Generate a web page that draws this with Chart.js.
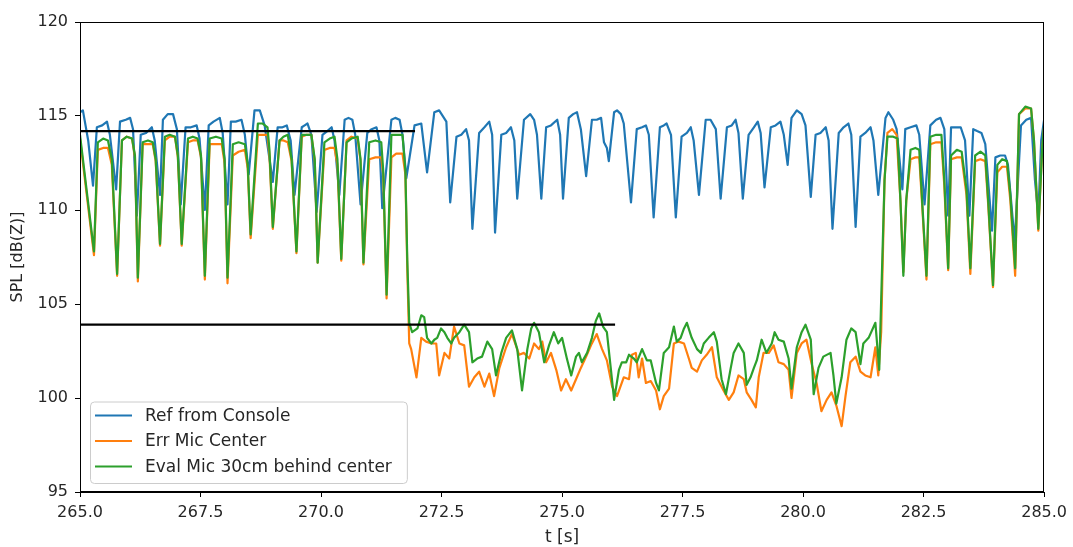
<!DOCTYPE html>
<html>
<head>
<meta charset="utf-8">
<script src="https://cdn.jsdelivr.net/npm/chart.js@4.4.1/dist/chart.umd.min.js"></script>
<style>
  html, body { margin: 0; padding: 0; background: #fff; }
  #wrap { position: relative; width: 1073px; height: 547px; }
</style>
</head>
<body>
<div id="wrap"><canvas id="spl"></canvas></div>
<script>
// time axis [s] and SPL [dB(Z)]
const refT = [
  265.00, 265.06, 265.17, 265.27,
  265.35, 265.46, 265.56, 265.62, 265.75,
  265.83, 265.95, 266.04, 266.10, 266.18,
  266.26, 266.37, 266.49, 266.55, 266.66,
  266.72, 266.82, 266.93, 267.01, 267.09,
  267.19, 267.30, 267.42, 267.48, 267.59,
  267.67, 267.77, 267.90, 267.96, 268.06,
  268.13, 268.23, 268.35, 268.42, 268.50,
  268.62, 268.73, 268.83, 269.00,
  269.10, 269.20, 269.29, 269.37, 269.45,
  269.60, 269.66, 269.72, 269.80, 269.91,
  270.03, 270.13, 270.22, 270.28, 270.38,
  270.49, 270.57, 270.65, 270.71, 270.82,
  270.96, 271.05, 271.15, 271.21, 271.27,
  271.46, 271.54, 271.63, 271.69, 271.77,
  271.94, 272.08, 272.20,
  272.35, 272.45, 272.60, 272.68,
  272.81, 272.91, 273.01, 273.07, 273.14,
  273.28, 273.39, 273.49, 273.55, 273.61,
  273.74, 273.84, 273.94, 274.01, 274.07,
  274.21, 274.34, 274.42, 274.48, 274.57,
  274.67, 274.77, 274.90, 274.96, 275.02,
  275.14, 275.23, 275.31, 275.39, 275.50,
  275.62, 275.72, 275.81, 275.87, 275.93, 275.97,
  276.08, 276.14, 276.22, 276.28, 276.43,
  276.55, 276.66, 276.74, 276.80, 276.90,
  277.03, 277.11, 277.17, 277.26, 277.36,
  277.48, 277.59, 277.67, 277.73, 277.84,
  277.98, 278.08, 278.19, 278.29,
  278.42, 278.52, 278.60, 278.66, 278.75,
  278.87, 278.98, 279.06, 279.12, 279.20,
  279.33, 279.43, 279.53, 279.60, 279.68,
  279.76, 279.87, 279.97, 280.05, 280.16,
  280.26, 280.36, 280.47, 280.53, 280.61,
  280.74, 280.84, 280.94, 281.00, 281.09,
  281.19, 281.29, 281.40, 281.46, 281.56,
  281.71, 281.77, 281.87, 281.94, 282.06,
  282.12, 282.23, 282.35, 282.41, 282.52,
  282.64, 282.76, 282.85, 282.93, 283.01,
  283.07, 283.17, 283.27, 283.36, 283.45,
  283.53, 283.61, 283.70, 283.78, 283.92,
  283.99, 284.09, 284.19, 284.25, 284.39,
  284.52, 284.63, 284.73, 284.81, 284.88,
  284.94, 285.00
];
const refV = [
  115.2, 115.3, 113.7, 111.3,
  114.4, 114.5, 114.7, 114.0, 111.1,
  114.7, 114.8, 114.9, 114.3, 109.7,
  114.0, 114.1, 114.4, 113.7, 110.8,
  114.8, 115.1, 115.1, 114.3, 110.3,
  114.4, 114.4, 114.5, 113.8, 110.0,
  114.5, 114.7, 114.9, 114.1, 110.3,
  114.7, 114.7, 114.8, 114.0, 111.9,
  115.3, 115.3, 114.5, 111.5,
  114.4, 114.4, 114.5, 113.7, 110.8,
  114.4, 114.5, 114.6, 114.0, 109.9,
  114.0, 114.2, 114.4, 113.7, 110.8,
  114.8, 114.9, 114.8, 114.0, 110.3,
  114.1, 114.3, 114.4, 113.7, 110.1,
  114.8, 114.9, 114.8, 114.0, 111.7,
  114.5, 114.6, 112.0,
  115.2, 115.3, 114.7, 110.4,
  113.9, 114.0, 114.3, 113.7, 109.0,
  114.1, 114.4, 114.7, 114.0, 108.8,
  114.0, 114.1, 114.4, 113.7, 110.6,
  114.8, 115.1, 114.8, 114.0, 110.6,
  114.4, 114.5, 114.8, 114.0, 110.6,
  114.9, 115.1, 115.2, 114.3, 111.8,
  114.8, 114.8, 114.9, 113.6, 113.3, 112.6,
  115.2, 115.3, 115.1, 114.6, 110.4,
  114.3, 114.4, 114.5, 114.0, 109.6,
  114.4, 114.5, 114.6, 114.0, 109.6,
  113.9, 114.1, 114.4, 113.7, 110.8,
  114.8, 114.8, 114.3, 110.6,
  114.4, 114.5, 114.8, 114.1, 110.6,
  114.0, 114.4, 114.7, 114.1, 111.2,
  114.4, 114.5, 114.7, 114.0, 112.4,
  114.9, 115.3, 115.1, 114.5, 110.7,
  114.0, 114.1, 114.4, 113.7, 109.0,
  114.1, 114.4, 114.6, 114.0, 109.1,
  113.9, 114.1, 114.4, 113.7, 110.8,
  114.9, 115.2, 114.8, 114.3, 111.1,
  114.3, 114.4, 114.5, 114.0, 110.3,
  114.5, 114.8, 114.9, 114.3, 109.7,
  114.4, 114.4, 114.4, 113.7, 109.7,
  114.3, 114.2, 114.1, 113.5, 108.9,
  112.8, 112.9, 112.9, 112.4, 108.3,
  114.5, 114.8, 114.9, 111.6, 109.7,
  113.7, 114.8
];

const errT = [
  265.00, 265.29,
  265.37, 265.48, 265.58, 265.66, 265.77,
  265.87, 265.97, 266.08, 266.14, 266.20,
  266.30, 266.41, 266.51, 266.57, 266.66,
  266.76, 266.86, 266.97, 267.03, 267.11,
  267.24, 267.34, 267.44, 267.51, 267.59,
  267.69, 267.82, 267.94, 268.00, 268.06,
  268.17, 268.29, 268.42, 268.48, 268.54,
  268.69, 268.79, 268.89, 268.93, 269.00,
  269.14, 269.22, 269.31, 269.39, 269.49,
  269.60, 269.70, 269.80, 269.87, 269.93,
  270.07, 270.18, 270.28, 270.34, 270.42,
  270.53, 270.63, 270.76, 270.82, 270.88,
  271.00, 271.13, 271.25, 271.29, 271.36,
  271.46, 271.56, 271.69, 271.75, 271.79, 271.83,
  271.87, 271.98, 272.08, 272.18, 272.29, 272.39, 272.45, 272.56, 272.66, 272.76,
  272.87, 272.97, 273.07, 273.18, 273.28, 273.39, 273.49, 273.59, 273.70, 273.84,
  273.96, 274.11, 274.21, 274.32, 274.42, 274.52, 274.59, 274.67, 274.77, 274.88,
  274.98, 275.08, 275.19, 275.29, 275.39, 275.50, 275.60, 275.72, 275.83, 275.93,
  276.04, 276.14, 276.28, 276.39, 276.45, 276.53, 276.59, 276.66, 276.74, 276.84,
  276.95, 277.03, 277.11, 277.22, 277.32, 277.42, 277.53, 277.63, 277.69, 277.80,
  277.90, 278.00, 278.11, 278.21, 278.35, 278.46, 278.56, 278.66, 278.77, 278.83,
  278.93, 279.02, 279.08, 279.18, 279.29, 279.39, 279.49, 279.60, 279.70, 279.76,
  279.87, 279.97, 280.07, 280.18, 280.28, 280.38, 280.49, 280.59, 280.69, 280.80,
  280.88, 280.98, 281.09, 281.19, 281.29, 281.40, 281.50, 281.56, 281.62, 281.69,
  281.75, 281.85, 281.94, 282.02, 282.08,
  282.14, 282.23, 282.33, 282.41, 282.47, 282.56,
  282.64, 282.76, 282.87, 282.93, 283.01,
  283.07, 283.19, 283.29, 283.39, 283.47,
  283.57, 283.68, 283.78, 283.84, 283.94,
  284.03, 284.13, 284.23, 284.30, 284.40,
  284.48, 284.61, 284.73, 284.79, 284.88, 284.96, 285.00
];
const errV = [
  113.8, 107.6,
  113.2, 113.3, 113.3, 112.4, 106.5,
  113.7, 113.9, 113.8, 112.8, 106.2,
  113.5, 113.5, 113.5, 112.6, 108.1,
  113.7, 113.9, 113.9, 112.8, 108.1,
  113.6, 113.7, 113.7, 112.8, 106.3,
  113.5, 113.5, 113.5, 112.5, 106.1,
  112.9, 113.1, 113.2, 112.2, 108.5,
  114.0, 114.0, 114.0, 112.9, 109.0,
  113.7, 113.7, 113.6, 112.6, 107.7,
  113.9, 114.0, 114.0, 112.6, 107.2,
  113.2, 113.3, 113.3, 112.4, 107.3,
  113.7, 113.9, 113.8, 112.6, 107.1,
  112.7, 112.8, 112.8, 111.9, 105.3,
  112.8, 113.0, 113.0, 111.9, 106.8, 102.9,
  102.6, 101.1, 103.2, 103.0, 102.9, 102.9, 101.2, 102.4, 102.1, 103.8,
  102.9, 102.8, 100.6, 101.1, 101.4, 100.6, 101.3, 100.1, 101.6, 102.7,
  103.4, 102.3, 102.4, 102.1, 102.9, 102.6, 103.0, 101.9, 102.4, 101.5,
  100.4, 101.0, 100.4, 101.0, 101.6, 102.2, 102.8, 103.4, 102.6, 102.0,
  100.6, 100.1, 101.1, 101.0, 102.3, 102.4, 101.1, 102.1, 100.8, 100.9,
  100.4, 99.4, 100.1, 100.5, 102.9, 103.0, 102.9, 102.1, 101.6, 101.4,
  102.0, 102.3, 102.7, 101.1, 100.4, 99.9, 100.3, 101.2, 101.0, 100.3,
  99.9, 99.5, 101.1, 102.4, 102.4, 102.8, 101.9, 101.8, 101.5, 100.0,
  102.4, 102.9, 103.1, 101.8, 100.8, 99.3, 99.9, 100.3, 99.6, 98.5,
  100.1, 101.9, 102.2, 101.4, 101.2, 101.1, 102.7, 101.2, 103.5, 111.6,
  114.1, 114.3, 114.0, 110.5, 106.7,
  110.5, 112.7, 112.8, 112.8, 110.3, 106.3,
  113.5, 113.6, 113.6, 111.3, 106.8,
  112.7, 112.8, 112.8, 110.8, 106.6,
  112.6, 112.7, 112.6, 110.3, 105.9,
  112.0, 112.3, 112.3, 110.5, 106.5,
  115.1, 115.4, 115.4, 113.7, 108.9, 113.2, 114.4
];

const evalT = [
  265.00, 265.29,
  265.37, 265.48, 265.58, 265.66, 265.77,
  265.87, 265.97, 266.08, 266.14, 266.20,
  266.30, 266.41, 266.51, 266.57, 266.66,
  266.76, 266.86, 266.97, 267.03, 267.11,
  267.24, 267.34, 267.44, 267.51, 267.59,
  267.69, 267.82, 267.94, 268.00, 268.06,
  268.17, 268.29, 268.42, 268.48, 268.54,
  268.69, 268.79, 268.89, 268.93, 269.00,
  269.14, 269.22, 269.31, 269.39, 269.49,
  269.60, 269.70, 269.80, 269.87, 269.93,
  270.07, 270.18, 270.28, 270.34, 270.42,
  270.53, 270.63, 270.76, 270.82, 270.88,
  271.00, 271.13, 271.25, 271.29, 271.36,
  271.46, 271.56, 271.69, 271.75, 271.79, 271.83,
  271.89, 272.00, 272.08, 272.14, 272.20, 272.29, 272.35, 272.41, 272.49, 272.56,
  272.62, 272.70, 272.76, 272.87, 272.97, 273.07, 273.14, 273.24, 273.34, 273.45,
  273.55, 273.63, 273.74, 273.84, 273.96, 274.07, 274.17, 274.28, 274.36, 274.42,
  274.52, 274.63, 274.73, 274.83, 274.92, 275.00, 275.10, 275.19, 275.29, 275.35,
  275.41, 275.52, 275.62, 275.70, 275.77, 275.85, 275.93, 276.01, 276.08, 276.18,
  276.24, 276.33, 276.39, 276.49, 276.55, 276.66, 276.76, 276.84, 276.95, 277.01,
  277.11, 277.22, 277.32, 277.38, 277.46, 277.53, 277.59, 277.69, 277.80, 277.88,
  277.94, 278.04, 278.15, 278.21, 278.31, 278.40, 278.50, 278.56, 278.66, 278.77,
  278.83, 278.91, 278.98, 279.04, 279.14, 279.24, 279.35, 279.41, 279.49, 279.60,
  279.70, 279.76, 279.87, 279.97, 280.05, 280.16, 280.22, 280.32, 280.42, 280.57,
  280.63, 280.69, 280.80, 280.90, 281.00, 281.09, 281.19, 281.25, 281.36, 281.50,
  281.58, 281.62, 281.69,
  281.75, 281.87, 281.96, 282.02, 282.08,
  282.14, 282.23, 282.33, 282.41, 282.47, 282.56,
  282.64, 282.76, 282.87, 282.93, 283.01,
  283.07, 283.19, 283.29, 283.39, 283.47,
  283.57, 283.68, 283.78, 283.84, 283.94,
  284.03, 284.13, 284.23, 284.30, 284.40,
  284.48, 284.61, 284.73, 284.79, 284.88, 284.96, 285.00
];
const evalV = [
  114.0, 107.8,
  113.6, 113.8, 113.7, 112.7, 106.6,
  113.7, 113.9, 113.8, 112.9, 106.4,
  113.6, 113.7, 113.6, 112.7, 108.2,
  113.9, 114.0, 113.9, 112.9, 108.2,
  113.8, 113.9, 113.8, 112.9, 106.5,
  113.8, 113.9, 113.8, 112.7, 106.4,
  113.5, 113.6, 113.5, 112.4, 108.7,
  114.6, 114.6, 114.4, 113.2, 109.1,
  113.7, 113.9, 114.0, 112.7, 107.8,
  114.0, 114.0, 114.0, 112.7, 107.2,
  113.6, 113.8, 113.9, 112.7, 107.4,
  113.6, 113.8, 113.9, 112.7, 107.2,
  113.6, 113.7, 113.6, 112.1, 105.5,
  114.0, 114.0, 114.0, 112.1, 107.3, 104.0,
  103.5, 103.7, 104.4, 104.3, 103.2, 102.9, 103.1, 103.2, 103.7, 103.5,
  103.2, 102.9, 103.2, 103.5, 103.9, 103.5, 101.9, 102.1, 102.2, 103.0,
  102.6, 101.2, 102.4, 103.2, 103.6, 102.6, 100.4, 102.6, 103.7, 104.0,
  103.5, 101.9, 102.8, 103.5, 102.9, 103.2, 102.1, 101.2, 102.2, 102.4,
  101.9, 102.4, 103.2, 104.1, 104.5, 103.8, 103.5, 101.6, 99.9, 101.5,
  101.9, 101.9, 102.3, 102.1, 101.9, 102.6, 102.0, 102.0, 100.8, 100.4,
  102.4, 102.7, 103.8, 103.0, 103.2, 103.7, 104.0, 103.2, 102.6, 102.4,
  102.9, 103.2, 103.5, 103.0, 101.0, 100.2, 101.6, 102.4, 102.9, 102.4,
  100.7, 101.1, 101.6, 102.0, 103.1, 102.4, 102.9, 103.5, 103.1, 103.0,
  102.1, 100.5, 102.7, 103.5, 103.9, 103.1, 100.2, 101.6, 102.2, 102.4,
  101.2, 99.7, 101.1, 103.1, 103.7, 103.5, 101.8, 102.9, 103.2, 104.0,
  101.5, 105.2, 111.6,
  113.9, 113.9, 113.8, 110.5, 106.5,
  110.5, 113.2, 113.3, 113.2, 110.5, 106.5,
  113.9, 114.0, 114.0, 111.6, 106.9,
  112.9, 113.2, 113.1, 111.1, 106.9,
  112.9, 113.1, 112.9, 110.5, 106.0,
  112.4, 112.7, 112.6, 110.8, 106.9,
  115.1, 115.5, 115.4, 113.7, 109.0, 113.2, 114.5
];

// the two black reference levels
const highT = [265.0, 271.95];
const highV = [114.2, 114.2];
const lowT = [265.0, 276.1];
const lowV = [103.9, 103.9];

const xTicks = [265, 267.5, 270, 272.5, 275, 277.5, 280, 282.5, 285];
const yTicks = [95, 100, 105, 110, 115, 120];

const labels = ["Ref from Console", "Err Mic Center", "Eval Mic 30cm behind center"];
const colors = ["#1f77b4", "#ff7f0e", "#2ca02c"];

const FONT = "'DejaVu Sans', sans-serif";
const TXT = "#262626";

function toPoints(ts, vs) {
  if (ts.length !== vs.length) console.warn("length mismatch", ts.length, vs.length);
  const n = Math.min(ts.length, vs.length);
  const out = [];
  for (let i = 0; i < n; i++) out.push({ x: ts[i], y: vs[i] });
  return out;
}

// matplotlib-style box around the axes
const frame = {
  id: "frame",
  afterDraw(chart) {
    const { ctx, chartArea: a } = chart;
    ctx.save();
    ctx.strokeStyle = "#000";
    ctx.lineWidth = 1;
    ctx.strokeRect(Math.round(a.left) + 0.5, Math.round(a.top) + 0.5,
      Math.round(a.right - a.left) - 1, Math.round(a.bottom - a.top) - 1);
    ctx.restore();
  }
};

// legend drawn inside the lower-left corner
const innerLegend = {
  id: "innerLegend",
  afterDatasetsDraw(chart) {
    const { ctx, chartArea: a } = chart;
    const sets = chart.data.datasets.filter(d => d.inLegend);
    ctx.save();
    ctx.font = "17px " + FONT;
    const textW = Math.max(...sets.map(d => ctx.measureText(d.label).width));
    const rowH = 25.5;
    const w = 55 + textW + 15;
    const h = sets.length * rowH + 5;
    const x0 = a.left + 10, y0 = a.bottom - 9 - h;
    ctx.beginPath();
    ctx.roundRect(x0 + 0.5, y0 + 0.5, w, h, 4);
    ctx.fillStyle = "rgba(255,255,255,0.8)";
    ctx.fill();
    ctx.strokeStyle = "#cccccc";
    ctx.lineWidth = 1;
    ctx.stroke();
    sets.forEach((d, i) => {
      const cy = y0 + 14 + i * rowH;
      ctx.beginPath();
      ctx.moveTo(x0 + 5, cy);
      ctx.lineTo(x0 + 42, cy);
      ctx.strokeStyle = d.borderColor;
      ctx.lineWidth = 2.2;
      ctx.stroke();
      ctx.fillStyle = TXT;
      ctx.textBaseline = "middle";
      ctx.fillText(d.label, x0 + 55, cy + 1);
    });
    ctx.restore();
  }
};

const datasets = [
  { label: labels[0], data: toPoints(refT, refV), borderColor: colors[0], order: 4, inLegend: true },
  { label: labels[1], data: toPoints(errT, errV), borderColor: colors[1], order: 3, inLegend: true },
  { label: labels[2], data: toPoints(evalT, evalV), borderColor: colors[2], order: 2, inLegend: true },
  { label: "high", data: toPoints(highT, highV), borderColor: "#000", order: 1 },
  { label: "low", data: toPoints(lowT, lowV), borderColor: "#000", order: 1 }
].map(d => Object.assign({ borderWidth: 2.2, pointRadius: 0, tension: 0, fill: false,
                           borderJoinStyle: "round", borderCapStyle: "butt" }, d));

new Chart(document.getElementById("spl"), {
  type: "line",
  data: { datasets },
  plugins: [frame, innerLegend],
  options: {
    responsive: true,
    maintainAspectRatio: false,
    animation: false,
    events: [],
    layout: { padding: { left: 0, right: 27, top: 22, bottom: 0 } },
    plugins: { legend: { display: false }, tooltip: { enabled: false } },
    scales: {
      x: {
        type: "linear",
        min: 265,
        max: 285,
        afterBuildTicks(scale) { scale.ticks = xTicks.map(v => ({ value: v })); },
        afterFit(scale) { scale.height = 55; },
        ticks: { callback: v => v.toFixed(1), color: TXT, padding: 6, maxRotation: 0,
                 font: { family: FONT, size: 16 } },
        grid: { drawOnChartArea: false, tickLength: 5, color: "#000", tickWidth: 1 },
        border: { color: "#000", width: 1 },
        title: { display: true, text: "t [s]", color: TXT, padding: { top: 0, bottom: 0 },
                 font: { family: FONT, size: 17, lineHeight: 1.1 } }
      },
      y: {
        min: 95,
        max: 120,
        afterBuildTicks(scale) { scale.ticks = yTicks.map(v => ({ value: v })); },
        afterFit(scale) { scale.width = 80; },
        ticks: { color: TXT, padding: 7, font: { family: FONT, size: 16 } },
        grid: { drawOnChartArea: false, tickLength: 5, color: "#000", tickWidth: 1 },
        border: { color: "#000", width: 1 },
        title: { display: true, text: "SPL [dB(Z)]", color: TXT, padding: { top: 8, bottom: 0 },
                 font: { family: FONT, size: 16, lineHeight: 1.2 } }
      }
    }
  }
});
</script>
</body>
</html>
